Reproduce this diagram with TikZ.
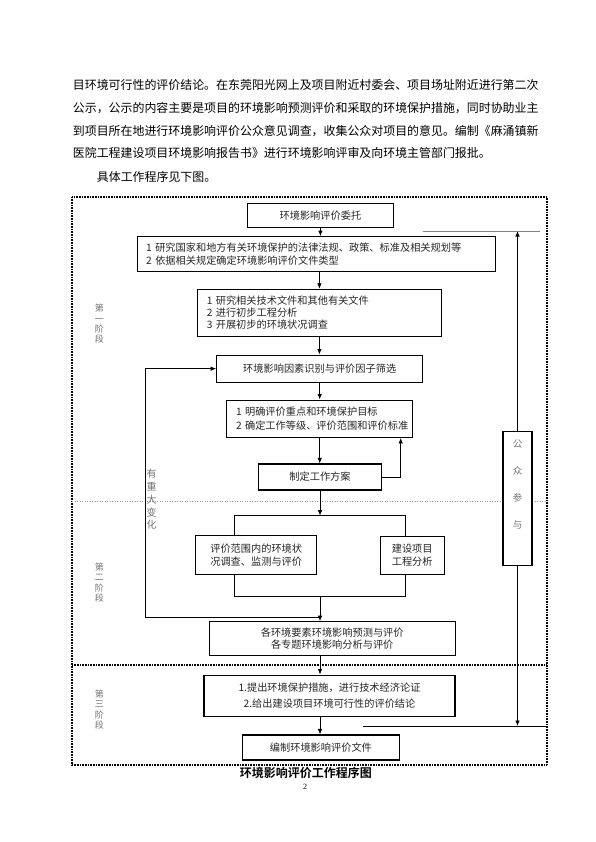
\documentclass[tikz,border=0pt]{standalone}
\usepackage{fontspec}
\setmainfont{Liberation Serif}
\newfontfamily\cjk{Noto Sans CJK SC}[BoldFont={Noto Sans CJK SC Bold}]
\usetikzlibrary{arrows.meta}
\tikzset{
  box/.style={draw, line width=1.1pt, fill=white, inner sep=0pt, text=black!85, align=center,
    font=\cjk\fontsize{10.2}{12.7}\selectfont},
  lbox/.style={box, align=left},
  conn/.style={line width=0.8pt},
  arr/.style={conn, -{Latex[length=5.5pt,width=4.5pt]}},
  stage/.style={font=\cjk\fontsize{9}{10.3}\selectfont, text=black!55, align=center, inner sep=0pt},
  para/.style={anchor=west, inner sep=0pt, font=\cjk\fontsize{11.94}{14}\selectfont},
  frameline/.style={dash pattern=on 0.9pt off 0.7pt, line width=1.2pt, black},
}
\begin{document}
\begin{tikzpicture}[x=1pt,y=-1pt]
\useasboundingbox (0,0) rectangle (595,842);

% top paragraph
\node[para] (p1) at (72.7,85) {目环境可行性的评价结论。在东莞阳光网上及项目附近村委会、项目场址附近进行第二次};
\node[para] (p2) at (72.7,108.3) {公示，公示的内容主要是项目的环境影响预测评价和采取的环境保护措施，同时协助业主};
\node[para] (p3) at (72.7,131) {到项目所在地进行环境影响评价公众意见调查，收集公众对项目的意见。编制《麻涌镇新};
\node[para] (p4) at (72.7,153.3) {医院工程建设项目环境影响报告书》进行环境影响评审及向环境主管部门报批。};
\node[para] (p5) at (96.7,176.7) {具体工作程序见下图。};

% frame and separators
\draw[frameline] (72,197) rectangle (547,765);
\draw[black!40, dotted, line width=0.5pt] (72,501) -- (547,501);
\draw[frameline] (72,665) -- (547,665);

% boxes
\node[box, minimum width=145.3pt, minimum height=24.4pt] (b1) at (320.4,215.5) {环境影响评价委托};
\node[lbox, inner xsep=8.5pt, text width=341pt, minimum height=35pt] (b2) at (316.7,254.2)
  {1~研究国家和地方有关环境保护的法律法规、政策、标准及相关规划等\\2~依据相关规定确定环境影响评价文件类型};
\node[lbox, inner xsep=9pt, text width=225.3pt, minimum height=46.7pt,
  font=\cjk\fontsize{10.2}{12.2}\selectfont] (b3) at (319.4,312.7)
  {1~研究相关技术文件和其他有关文件\\2~进行初步工程分析\\3~开展初步的环境状况调查};
\node[box, minimum width=206pt, minimum height=27.3pt] (b4) at (319.7,368.7) {环境影响因素识别与评价因子筛选};
\node[lbox, inner xsep=9.3pt, text width=167.4pt, minimum height=37.3pt,
  font=\cjk\fontsize{10.2}{13.3}\selectfont] (b5) at (319.7,418.7)
  {1~明确评价重点和环境保护目标\\2~确定工作等级、评价范围和评价标准};
\node[box, minimum width=123.4pt, minimum height=26pt] (b6) at (320,477) {制定工作方案};
\node[box, minimum width=121pt, minimum height=38.6pt, font=\cjk\fontsize{10.2}{13.4}\selectfont] (b7a) at (256.2,555)
  {评价范围内的环境状\\况调查、监测与评价};
\node[box, minimum width=64.3pt, minimum height=37.6pt, font=\cjk\fontsize{10.2}{13}\selectfont] (b7b) at (412.2,555.5)
  {建设项目\\工程分析};
\node[box, minimum width=245.7pt, minimum height=34pt, font=\cjk\fontsize{10.2}{12.4}\selectfont] (b8) at (332.2,638.7)
  {各环境要素环境影响预测与评价\\各专题环境影响分析与评价};
\node[box, minimum width=251pt, minimum height=41.7pt, font=\cjk\fontsize{10.2}{15.6}\selectfont] (b9) at (329.5,695.9)
  {1.提出环境保护措施，进行技术经济论证\\2.给出建设项目环境可行性的评价结论};
\node[box, minimum width=156.3pt, minimum height=25pt] (b10) at (320.9,747.5) {编制环境影响评价文件};
\node[box, minimum width=29pt, minimum height=134pt] (pub) at (517.5,498.7) {};
\node[stage, font=\cjk\fontsize{9.5}{27}\selectfont] (publ) at (517.5,484) {公\\众\\参\\与};

% side labels
\node[stage] (s1) at (99.3,324) {第\\一\\阶\\段};
\node[stage] (s2) at (99.3,582.5) {第\\二\\阶\\段};
\node[stage] (s3) at (99.3,709.5) {第\\三\\阶\\段};
\node[stage, font=\cjk\fontsize{10}{12.7}\selectfont] (chg) at (151.7,499.5) {有\\重\\大\\变\\化};

% connectors
\draw[arr] (b1.south) -- (b1.south |- b2.north);
\draw[arr] (b3.north |- b2.south) -- (b3.north);
\draw[arr] (b3.south) -- (b3.south |- b4.north);
\draw[arr] (b4.south) -- (b4.south |- b5.north);
\draw[arr] (b5.south) -- (b5.south |- b6.north);
\coordinate (sL) at (234,515.7);
\coordinate (sR) at (405.7,515.7);
\draw[arr] (b6.south) -- (b6.south |- sL);
\draw[conn] (sL |- b7a.north) -- (sL) -- (sR) -- (sR |- b7b.north);
\coordinate (mL) at (234,596.7);
\coordinate (mR) at (405.7,596.7);
\coordinate (mC) at (320,596.7);
\draw[conn] (mL |- b7a.south) -- (mL) -- (mR) -- (mR |- b7b.south);
\draw[arr] (mC) -- (mC |- b8.north);
\coordinate (fb) at (145,617.7);
\draw[arr] (mC |- fb) -- (fb) -- (fb |- b4.west) -- (b4.west);
\coordinate (fb2) at (400.7,477);
\draw[arr] (b6.east) -- (fb2) -- (fb2 |- b5.south);
\draw[arr] (b8.south -| mC) -- (b9.north -| mC);
\draw[arr] (b9.south -| mC) -- (b10.north -| mC);

% public participation
\coordinate (pt) at (517.5,231);
\coordinate (pb) at (517.5,726);
\draw[arr] (pub.north) -- (pt);
\draw[arr] (pub.south) -- (pb);
\coordinate (tlL) at (423,231);
\coordinate (tlR) at (540,231);
\draw[conn, black!50] (tlL) -- (tlR);
\coordinate (blL) at (362.7,726);
\coordinate (blR) at (547,726);
\draw[conn] (blL) -- (blR);

% caption
\node[font=\cjk\bfseries\fontsize{12}{14}\selectfont, inner sep=0pt] (cap) at (305.8,773) {环境影响评价工作程序图};
\node[font=\fontsize{8}{9}\selectfont, inner sep=0pt] (pg) at (305,787) {2};
\end{tikzpicture}
\end{document}
